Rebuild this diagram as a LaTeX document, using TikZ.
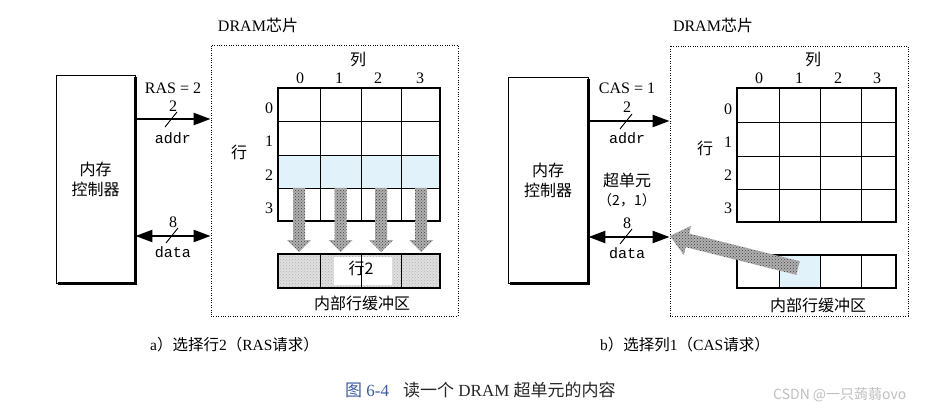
\documentclass[tikz,border=0pt]{standalone}
\usepackage{fontspec}
\setmainfont{Liberation Serif}
\setmonofont{Liberation Mono}
\newfontfamily\cjk{Noto Sans CJK SC}
\usetikzlibrary{arrows.meta,patterns}
\definecolor{hlblue}{HTML}{E2F2FA}
\definecolor{capblue}{HTML}{3D5C9E}
\begin{document}
\begin{tikzpicture}[x=1pt,y=-1pt,
  txt/.style={inner sep=0pt, font=\fontsize{16}{20}\selectfont},
  ctxt/.style={inner sep=0pt, font=\cjk\fontsize{16}{20}\selectfont},
  mtxt/.style={inner sep=0pt, font=\ttfamily\fontsize{15}{18}\selectfont},
  ctrl/.style={draw, line width=0.9pt, inner sep=0pt, align=center, font=\cjk\fontsize{16}{20}\selectfont},
  chip/.style={draw, line width=0.9pt, dash pattern=on 1pt off 1.4pt, inner sep=0pt},
  bus/.style={line width=2.4pt, -{Triangle[length=17pt,width=12pt]}},
  bibus/.style={line width=2.4pt, {Triangle[length=17pt,width=12pt]}-{Triangle[length=17pt,width=12pt]}},
  tick/.style={line width=0.9pt},
  outer/.style={draw, line width=2pt, inner sep=0pt},
  innerline/.style={line width=0.8pt},
  speck/.style={preaction={fill=gray!62}, pattern=crosshatch dots, pattern color=black!75},
  bufspeck/.style={preaction={fill=gray!25}, pattern=crosshatch dots, pattern color=gray!60},
  shadowline/.style={line width=3pt},
  downarr/.pic={\path[speck] (-6,0) -- (6,0) -- (6,52) -- (12,52) -- (0,64) -- (-12,52) -- (-6,52) -- cycle;}
]
\useasboundingbox (0,0) rectangle (942,414);
\fill[white] (0,0) rectangle (942,414);

% ================= panel a =================
\node[ctrl, minimum width=79pt, minimum height=208pt] (ctrlA) at (95.5,179) {内存\\控制器};
\draw[shadowline] ([yshift=-2pt]ctrlA.north east) -- (ctrlA.south east) -- ([xshift=2pt]ctrlA.south west);
\node[chip, minimum width=247pt, minimum height=271pt] (chipA) at (334.5,180.5) {};
\node[txt] (chipAlbl) at (258,25) {DRAM{\cjk 芯片}};

\coordinate (yA1) at (0,119);
\coordinate (yA2) at (0,236);
\draw[bus] (ctrlA.east |- yA1) -- (chipA.west |- yA1);
\draw[bibus] (ctrlA.east |- yA2) -- (chipA.west |- yA2);
\draw[tick] (165,127) -- (177,112);
\draw[tick] (166,243) -- (178,228);
\node[txt] (rasA) at (173,88) {RAS = 2};
\node[txt] (wA1) at (173,106) {2};
\node[mtxt] (addrA) at (173,138) {addr};
\node[txt] (wA2) at (173,222) {8};
\node[mtxt] (dataA) at (173,252) {data};

% grid a
\fill[hlblue] (278,155) rectangle (440,188);
\node[outer, minimum width=162pt, minimum height=133pt] (gridA) at (359,154.5) {};
\foreach \x in {320,361,401.7} \draw[innerline] (\x,88) -- (\x,221);
\foreach \y in {121,155,188} \draw[innerline] (278,\y) -- (440,\y);
\node[ctxt] (colA) at (358,60) {列};
\node[txt] (cA0) at (300,78) {0};
\node[txt] (cA1) at (339,78) {1};
\node[txt] (cA2) at (378,78) {2};
\node[txt] (cA3) at (420,78) {3};
\node[ctxt] (rowA) at (239,152) {行};
\node[txt] (rA0) at (269,108) {0};
\node[txt] (rA1) at (269,141) {1};
\node[txt] (rA2) at (269,175) {2};
\node[txt] (rA3) at (269,208) {3};

% arrows down
\pic (arA0) at (299,188) {downarr};
\pic (arA1) at (340.5,188) {downarr};
\pic (arA2) at (381,188) {downarr};
\pic (arA3) at (421,188) {downarr};

% buffer a
\path[bufspeck] (278,254) rectangle (440,288);
\fill[white] (334,257) rectangle (392,285);
\foreach \x in {320,361,401.7} \draw[innerline] (\x,254) -- (\x,288);
\node[outer, minimum width=162pt, minimum height=34pt] (bufA) at (359,271) {};
\node[ctxt] (bufAtxt) at (361,268) {行2};
\node[ctxt] (bufAlbl) at (362,303) {内部行缓冲区};

% ================= panel b =================
\node[ctrl, minimum width=80pt, minimum height=206pt] (ctrlB) at (548,180) {内存\\控制器};
\draw[shadowline] ([yshift=-2pt]ctrlB.north east) -- (ctrlB.south east) -- ([xshift=2pt]ctrlB.south west);
\node[chip, minimum width=238pt, minimum height=270pt] (chipB) at (789,181) {};
\node[txt] (chipBlbl) at (713,25) {DRAM{\cjk 芯片}};

\coordinate (yB1) at (0,121);
\coordinate (yB2) at (0,237);
\draw[bus] (ctrlB.east |- yB1) -- (chipB.west |- yB1);
\draw[bibus] (ctrlB.east |- yB2) -- (chipB.west |- yB2);
\draw[tick] (620,129) -- (632,114);
\draw[tick] (620,244) -- (632,229);
\node[txt] (casB) at (627,88) {CAS = 1};
\node[txt] (wB1) at (627,107) {2};
\node[mtxt] (addrB) at (627,138) {addr};
\node[ctxt] (superB) at (627,180) {超单元};
\node[inner sep=0pt, font=\cjk\fontsize{14}{18}\selectfont] (idxB) at (627,200) {（2，1）};
\node[txt] (wB2) at (627,223) {8};
\node[mtxt] (dataB) at (627,253) {data};

% grid b
\node[outer, minimum width=159pt, minimum height=134pt] (gridB) at (816.5,155) {};
\foreach \x in {779,820,861} \draw[innerline] (\x,88) -- (\x,222);
\foreach \y in {122,156,189} \draw[innerline] (737,\y) -- (896,\y);
\node[ctxt] (colB) at (813,60) {列};
\node[txt] (cB0) at (759,78) {0};
\node[txt] (cB1) at (799,78) {1};
\node[txt] (cB2) at (838,78) {2};
\node[txt] (cB3) at (877,78) {3};
\node[ctxt] (rowB) at (705,148) {行};
\node[txt] (rB0) at (728,109) {0};
\node[txt] (rB1) at (728,142) {1};
\node[txt] (rB2) at (728,175) {2};
\node[txt] (rB3) at (728,208) {3};

% buffer b
\fill[hlblue] (779,255) rectangle (820,288);
\foreach \x in {779,820,861} \draw[innerline] (\x,255) -- (\x,288);
\node[outer, minimum width=159pt, minimum height=33pt] (bufB) at (816.5,271.5) {};
\node[ctxt] (bufBlbl) at (818,305) {内部行缓冲区};

% diagonal arrow
\path[speck] (670,236) -- (691.10,225.82) -- (689.16,233.58) -- (799.70,261.21)
  -- (796.30,274.79) -- (685.76,247.16) -- (683.82,254.92) -- cycle;

% ================= captions =================
\node[inner sep=0pt, anchor=west, font=\fontsize{15.5}{18}\selectfont] (capA) at (150,345)
  {a{\cjk ）选择行}2{\cjk （}RAS{\cjk 请求）}};
\node[inner sep=0pt, anchor=west, font=\fontsize{15.5}{18}\selectfont] (capB) at (600,345)
  {b{\cjk ）选择列}1{\cjk （}CAS{\cjk 请求）}};
\node[inner sep=0pt, anchor=west, font=\fontsize{17}{20}\selectfont, text=capblue] (figno) at (345,390)
  {{\cjk 图} 6-4};
\node[inner sep=0pt, anchor=west, font=\fontsize{17}{20}\selectfont, text=black!85] (figtxt) at (403,390)
  {{\cjk 读一个} DRAM {\cjk 超单元的内容}};
\node[inner sep=0pt, anchor=west, font=\cjk\fontsize{14}{16}\selectfont, text=gray!50] (wm) at (773,395)
  {CSDN @一只蒟蒻ovo};
\end{tikzpicture}
\end{document}
